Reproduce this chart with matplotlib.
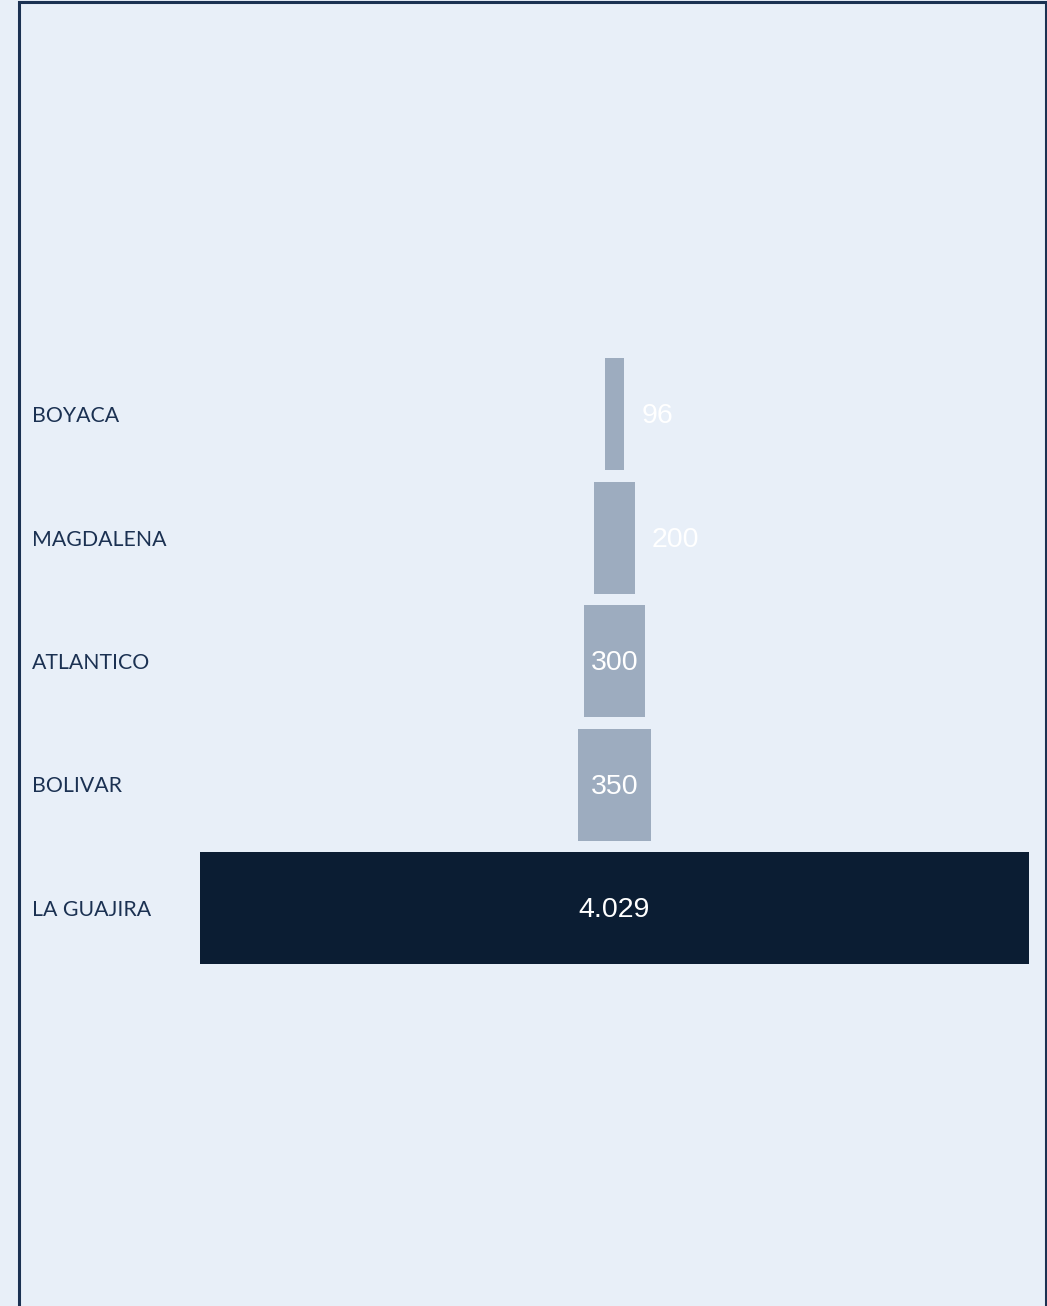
import matplotlib
matplotlib.use("Agg")
import matplotlib.pyplot as plt
from matplotlib.patches import Rectangle

categories = ["BOYACA", "MAGDALENA", "ATLANTICO", "BOLIVAR", "LA GUAJIRA"]
values = [96, 200, 300, 350, 4029]
value_labels = ["96", "200", "300", "350", "4.029"]
bar_colors = ["#9DACBF", "#9DACBF", "#9DACBF", "#9DACBF", "#0B1D33"]

W, H = 1047, 1306
bg = "#E8EFF8"
fig = plt.figure(figsize=(W / 100, H / 100), dpi=100, facecolor=bg)

ax = fig.add_axes([200 / W, 0, (1029 - 200) / W, 1])
ax.set_facecolor("none")
half = max(values) / 2
ax.set_xlim(-half, half)
pitch = 123.5
ax.set_ylim((H - 414) / pitch, -414 / pitch)
ax.axis("off")

ys = list(range(len(categories)))
lefts = [-v / 2 for v in values]
ax.barh(ys, values, left=lefts, height=112 / pitch, color=bar_colors)

px_per_unit = (1029 - 200) / max(values)
for y, v, lab in zip(ys, values, value_labels):
    if v * px_per_unit < 50:
        ax.annotate(lab, xy=(v / 2, y), xytext=(17, -2), textcoords="offset pixels",
                    ha="left", va="center", color="white", fontsize=20.5,
                    family="Liberation Sans")
    else:
        ax.annotate(lab, xy=(0, y), xytext=(0, -2), textcoords="offset pixels",
                    ha="center", va="center", color="white", fontsize=20.5,
                    family="Liberation Sans")

for y, c in zip(ys, categories):
    fig.text(32 / W, 1 - (416 + pitch * y) / H, c, ha="left", va="center",
             color="#1B3152", fontsize=15.3, family="Lato")

frame = Rectangle((19 / W, -0.01), (1046 - 19) / W, 1 - 2 / H + 0.01,
                  transform=fig.transFigure, fill=False, edgecolor="#1B3152",
                  linewidth=2.2, clip_on=False)
fig.patches.append(frame)

fig.savefig("out.png", dpi=100, facecolor=bg)
